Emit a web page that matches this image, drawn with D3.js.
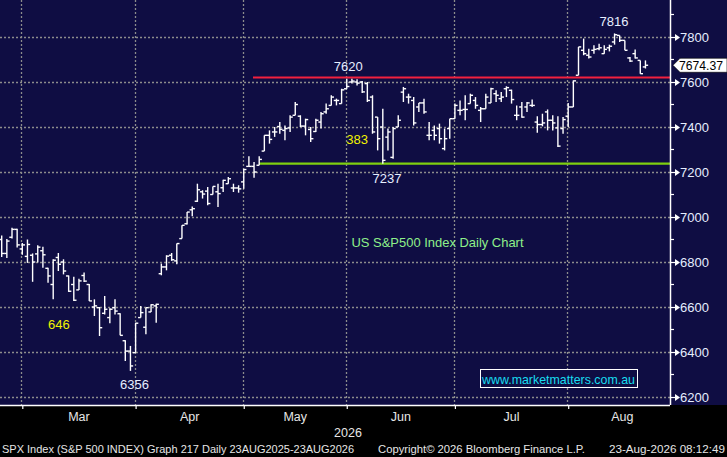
<!DOCTYPE html>
<html>
<head>
<meta charset="utf-8">
<script src="https://cdn.jsdelivr.net/npm/d3@7"></script>
<style>
html,body{margin:0;padding:0;background:#000;}
svg{display:block;}
</style>
</head>
<body>
<svg id="chart" width="727" height="457"></svg>
<script>
// ---- data ----
const opens  = [6900,6838,6910,6945,6858,6825,6830,6836,6850,6772,6700,6820,6800,6738,6700,6676,6740,6700,6600,6597,6572,6553,6597,6570,6450,6404,6397,6553,6510,6578,6605,
6748,6778,6830,6805,6904,6970,7032,7070,7112,7115,7100,7112,7130,7148,7129,7129,7156,7225,7225,7230,
7293,7363,7378,7402,7385,7396,7452,7448,7404,7389,7380,7422,7467,7496,7518,7504,7570,7600,7600,7600,7593,7533,7444,7400,7355,7265,7400,7555,7533,7518,
7489,7507,7363,7385,7393,7304,7393,7437,7474,7478,7504,7518,7474,7481,7507,7548,7526,7570,7563,7452,7489,7489,7496,7422,7411,7467,7430,7396,7393,7448,
7489,7630,7741,7719,7741,7748,7726,7752,7778,7807,7785,7707,7726,7696,7667];
const highs  = [6918,6902,6952,6948,6885,6900,6838,6875,6868,6775,6812,6840,6812,6740,6735,6726,6753,6702,6634,6600,6649,6594,6634,6572,6452,6427,6530,6604,6597,6612,6615,
6793,6830,6840,6882,6963,7022,7047,7148,7119,7133,7136,7148,7166,7178,7148,7141,7215,7270,7244,7270,
7363,7385,7400,7422,7407,7452,7511,7452,7437,7400,7437,7467,7504,7541,7526,7570,7615,7615,7612,7604,7600,7541,7444,7481,7393,7400,7452,7578,7548,7533,
7507,7526,7422,7407,7415,7393,7437,7504,7518,7541,7548,7533,7489,7548,7575,7563,7556,7581,7566,7496,7511,7511,7522,7448,7459,7478,7452,7448,7444,7507,
7607,7756,7793,7748,7763,7770,7763,7766,7816,7807,7785,7711,7745,7696,7696];
const lows   = [6822,6818,6905,6864,6832,6796,6712,6798,6775,6708,6634,6760,6745,6667,6627,6676,6711,6627,6560,6471,6567,6528,6567,6474,6360,6316,6397,6553,6479,6578,6530,
6741,6763,6805,6790,6904,6967,7003,7067,7082,7052,7100,7044,7111,7148,7111,7108,7126,7225,7175,7230,
7293,7326,7356,7370,7341,7378,7452,7400,7363,7333,7378,7393,7459,7496,7496,7504,7570,7593,7585,7551,7511,7370,7296,7237,7296,7259,7400,7511,7504,7407,
7467,7459,7341,7341,7326,7296,7348,7437,7452,7430,7504,7481,7422,7481,7507,7511,7511,7533,7504,7430,7441,7467,7489,7374,7403,7385,7385,7311,7370,7400,
7489,7630,7719,7704,7726,7741,7726,7736,7766,7778,7741,7689,7704,7637,7660];
const closes = [6838,6893,6945,6876,6876,6878,6800,6866,6832,6738,6808,6790,6760,6670,6630,6716,6715,6627,6605,6508,6590,6590,6582,6474,6404,6338,6528,6575,6597,6610,6612,
6778,6826,6810,6882,6963,7022,7037,7121,7102,7060,7136,7104,7163,7170,7129,7125,7211,7225,7200,7256,
7363,7345,7378,7390,7393,7444,7500,7404,7433,7348,7430,7459,7481,7533,7518,7565,7580,7604,7595,7556,7518,7378,7348,7252,7378,7393,7430,7570,7533,7418,
7507,7467,7363,7363,7348,7348,7437,7496,7474,7478,7541,7496,7481,7533,7570,7541,7533,7575,7522,7452,7444,7507,7496,7411,7418,7430,7418,7315,7433,7489,
7605,7756,7726,7711,7745,7752,7745,7759,7810,7785,7741,7693,7707,7637,7674.37];

const monthLabels = ["Mar","Apr","May","Jun","Jul","Aug"];
const monthStarts = [4,26,47,67,88,110,131];   // bar index of first trading day of each month
const yTicks      = [6200,6400,6600,6800,7000,7200,7400,7600,7800];
const yMinorTicks = [6300,6500,6700,6900,7100,7300,7500,7700,7900];
const resistance  = 7620;
const support     = 7237;
const lastPrice   = 7674.37;
const annotations = [
  {text:"7620", i:67.3, v:7649, color:"#e6eeff"},
  {text:"7816", i:118.9, v:7851, color:"#e6eeff"},
  {text:"7237", i:74.8, v:7153, color:"#e6eeff"},
  {text:"6356", i:25.8, v:6236, color:"#e6eeff"},
  {text:"646",  i:11.1, v:6502, color:"#f2f200"},
  {text:"383",  i:69.0, v:7324, color:"#f2f200"}
];
const footer = [
  {text:"SPX Index (S&P 500 INDEX) Graph 217 Daily 23AUG2025-23AUG2026", x:2, len:352},
  {text:"Copyright\u00A9 2026 Bloomberg Finance L.P.", x:378, len:207},
  {text:"23-Aug-2026 08:12:49", x:609, len:116}
];

// ---- layout ----
const W = 727, H = 457;
const plotR = 670, plotB = 405;
const SANS = "'Liberation Sans',Arial,sans-serif";

const svg = d3.select("#chart");
const x = d3.scaleLinear().domain([0, 125]).range([1.7, 1.7 + 125*5.15]);
const y = d3.scaleLinear().domain([6200, 7800]).range([397, 37]);

svg.append("rect").attr("width", W).attr("height", H).attr("fill", "#000");
svg.append("rect").attr("width", W).attr("height", plotB).attr("fill", "#0f0d43");

// grid
const grid = svg.append("g").attr("stroke", "#8c8c8c").attr("stroke-width", 1.3).attr("stroke-dasharray", "2,2");
grid.selectAll("line.h").data(yTicks).join("line").attr("class","h")
  .attr("x1", 0).attr("x2", plotR).attr("y1", d => Math.round(y(d))+0.5).attr("y2", d => Math.round(y(d))+0.5);
grid.selectAll("line.v").data(monthStarts.slice(0, 6)).join("line").attr("class","v")
  .attr("x1", d => Math.round(x(d))-0.5).attr("x2", d => Math.round(x(d))-0.5).attr("y1", 0).attr("y2", plotB);

// support/resistance lines
svg.append("line").attr("x1", 253).attr("x2", plotR).attr("y1", y(resistance)).attr("y2", y(resistance))
  .attr("stroke", "#f2203e").attr("stroke-width", 2.2);
svg.append("line").attr("x1", x(50)).attr("x2", plotR).attr("y1", y(support)).attr("y2", y(support))
  .attr("stroke", "#7fcf0f").attr("stroke-width", 2.2);

// OHLC bars
const bars = svg.append("g").attr("stroke", "#ffffff").attr("stroke-width", 1.4);
const idx = d3.range(opens.length);
bars.selectAll("line.hl").data(idx).join("line").attr("class","hl")
  .attr("x1", i => x(i)).attr("x2", i => x(i)).attr("y1", i => y(highs[i])).attr("y2", i => y(lows[i]));
bars.selectAll("line.o").data(idx).join("line").attr("class","o")
  .attr("x1", i => x(i)-2.7).attr("x2", i => x(i)).attr("y1", i => y(opens[i])).attr("y2", i => y(opens[i]));
bars.selectAll("line.c").data(idx).join("line").attr("class","c")
  .attr("x1", i => x(i)).attr("x2", i => x(i)+2.7).attr("y1", i => y(closes[i])).attr("y2", i => y(closes[i]));

// annotations
svg.selectAll("text.ann").data(annotations).join("text").attr("class","ann")
  .attr("x", d => x(d.i)).attr("y", d => y(d.v)).attr("text-anchor","middle")
  .attr("fill", d => d.color).attr("font-family", SANS).attr("font-size", 13)
  .text(d => d.text);

svg.append("text").attr("x", 351.5).attr("y", 246.5).attr("fill", "#8ef08a")
  .attr("font-family", SANS).attr("font-size", 13).attr("textLength", 172).attr("lengthAdjust","spacingAndGlyphs")
  .text("US S&P500 Index Daily Chart");

svg.append("rect").attr("x", 480.5).attr("y", 369.5).attr("width", 157).attr("height", 18)
  .attr("fill", "#0f0d43").attr("stroke", "#ffffff").attr("stroke-width", 1);
svg.append("text").attr("x", 482).attr("y", 384).attr("fill", "#18dcf0")
  .attr("font-family", SANS).attr("font-size", 13).attr("textLength", 153).attr("lengthAdjust","spacingAndGlyphs")
  .text("www.marketmatters.com.au");

// right axis
const yAxis = d3.axisRight(y).tickValues(yTicks).tickSize(7).tickPadding(4).tickFormat(d3.format("d"));
const ya = svg.append("g").attr("transform", `translate(${plotR},0)`).call(yAxis);
ya.select(".domain").attr("stroke", "#ffffff").attr("stroke-width", 1.5).attr("d", `M0.5,0V${plotB}`);
ya.selectAll(".tick line").attr("stroke", "#ffffff").attr("stroke-width", 1.2);
ya.selectAll(".tick").append("path").attr("d", "M5,-3.5L10,0L5,3.5Z").attr("fill", "#ffffff");
ya.selectAll(".tick text").attr("fill", "#e6eeff").attr("font-family", SANS).attr("font-size", 13).attr("x", 10);
const minor = svg.append("g").attr("stroke", "#ffffff").attr("stroke-width", 1.2);
minor.selectAll("line").data(yMinorTicks).join("line")
  .attr("x1", plotR).attr("x2", plotR+4).attr("y1", d => y(d)).attr("y2", d => y(d));

// last price flag
const ly = y(lastPrice);
svg.append("path").attr("d", `M673,${ly}L680,${ly-7}L727,${ly-7}L727,${ly+7}L680,${ly+7}Z`)
  .attr("fill", "#ffffff").attr("stroke", "#000").attr("stroke-width", 0.6);
svg.append("text").attr("x", 679).attr("y", ly).attr("dy", "0.36em").attr("fill", "#000")
  .attr("font-family", SANS).attr("font-size", 12).attr("textLength", 44).attr("lengthAdjust","spacingAndGlyphs")
  .text(lastPrice.toFixed(2));

// bottom axis
const xAxis = d3.axisBottom(x).tickValues(monthStarts.slice(0, 6)).tickSize(4).tickFormat("");
const xa = svg.append("g").attr("transform", `translate(0,${plotB})`).call(xAxis);
xa.select(".domain").attr("stroke", "#ffffff").attr("stroke-width", 1.5).attr("d", `M0,0.5H${plotR}`);
xa.selectAll(".tick line").attr("stroke", "#ffffff").attr("stroke-width", 1.2);

const mids = monthLabels.map((m, k) => ({m, i: (monthStarts[k] + monthStarts[k+1]) / 2}));
svg.selectAll("text.month").data(mids).join("text").attr("class","month")
  .attr("x", d => x(d.i)).attr("y", 421).attr("text-anchor","middle")
  .attr("fill", "#e6e6e6").attr("font-family", SANS).attr("font-size", 12.5).text(d => d.m);
svg.append("text").attr("x", 348).attr("y", 437).attr("text-anchor","middle")
  .attr("fill", "#e6e6e6").attr("font-family", SANS).attr("font-size", 12.5).text("2026");

svg.selectAll("text.foot").data(footer).join("text").attr("class","foot")
  .attr("x", d => d.x).attr("y", 453).attr("fill", "#e6e6e6")
  .attr("font-family", SANS).attr("font-size", 11)
  .attr("textLength", d => d.len).attr("lengthAdjust","spacingAndGlyphs").text(d => d.text);
</script>
</body>
</html>
